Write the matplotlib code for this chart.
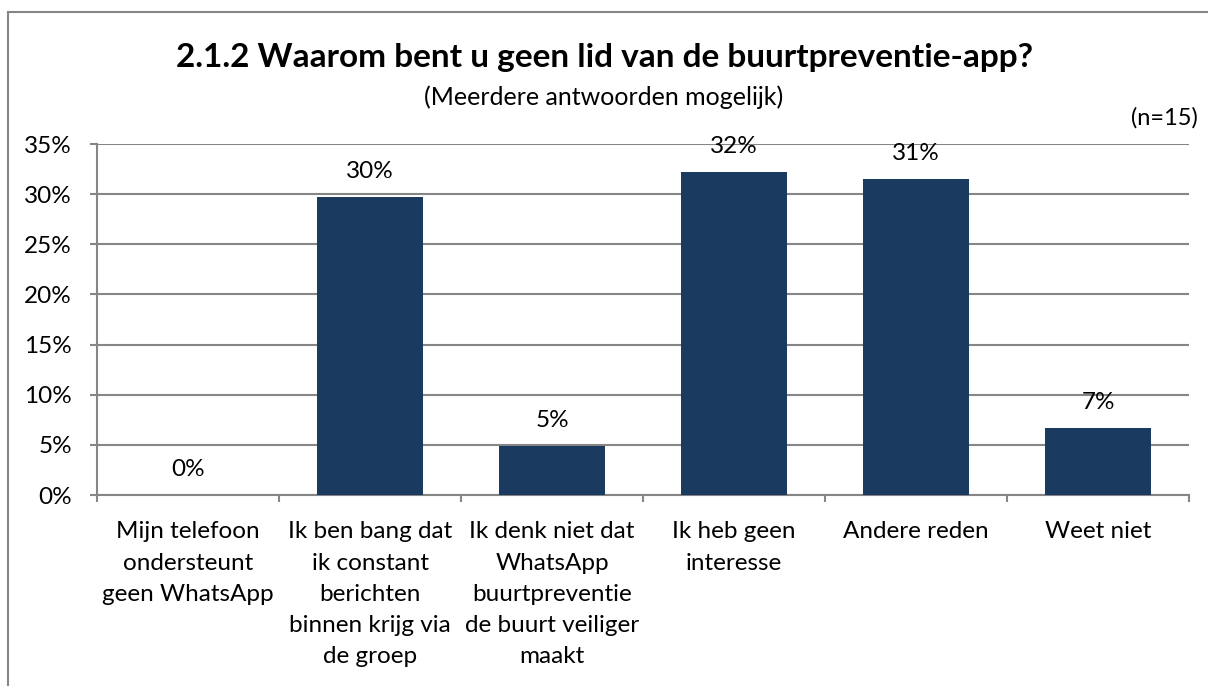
import matplotlib
matplotlib.use('Agg')
import matplotlib.pyplot as plt
from matplotlib.patches import Rectangle
from matplotlib.ticker import FuncFormatter, MultipleLocator

# Data
categorieen = ['Mijn telefoon\nondersteunt\ngeen WhatsApp',
               'Ik ben bang dat\nik constant\nberichten\nbinnen krijg via\nde groep',
               'Ik denk niet dat\nWhatsApp\nbuurtpreventie\nde buurt veiliger\nmaakt',
               'Ik heb geen\ninteresse',
               'Andere reden',
               'Weet niet']
percentages = [0.0, 29.7, 4.9, 32.2, 31.5, 6.7]
labels = ['0%', '30%', '5%', '32%', '31%', '7%']

plt.rcParams['font.family'] = ['Lato', 'DejaVu Sans']

fig = plt.figure(figsize=(12.08, 6.86), dpi=100)
ax = fig.add_axes([0.0803, 0.2784, 0.9040, 0.5116])

# Rand van de grafiek (alleen boven en links zichtbaar)
fig.patches.append(Rectangle((0.007, -0.1), 1.1, 1.1 - 0.0175, transform=fig.transFigure,
                             fill=False, edgecolor='#868686', linewidth=1.5))

x = range(len(categorieen))
bars = ax.bar(x, percentages, width=0.58, color='#1B3A5F', zorder=3)

for i, (p, lab) in enumerate(zip(percentages, labels)):
    ax.annotate(lab, (i, p), xytext=(0, 18.5), textcoords='offset points',
                ha='center', va='center', fontsize=17.5, color='#000000')

ax.set_xlim(-0.5, len(categorieen) - 0.5)
ax.set_ylim(0, 35)
ax.yaxis.set_major_locator(MultipleLocator(5))
ax.yaxis.set_major_formatter(FuncFormatter(lambda v, _: f'{v:.0f}%'))
ax.grid(axis='y', color='#868686', linewidth=1.5, zorder=0)

ax.set_xticks(x)
ax.set_xticklabels(categorieen, fontsize=17.5, linespacing=1.6, va='top')
ax.tick_params(axis='x', length=0, pad=19)
ax.set_xticks([i - 0.5 for i in range(len(categorieen) + 1)], minor=True)
ax.tick_params(axis='x', which='minor', length=5, width=1.5, color='#868686')
ax.tick_params(axis='y', length=5, width=1.5, color='#868686', labelsize=17.5, pad=13)

for s in ['top', 'right']:
    ax.spines[s].set_visible(False)
ax.spines['left'].set_color('#868686')
ax.spines['left'].set_linewidth(1.5)
ax.spines['bottom'].set_color('#868686')
ax.spines['bottom'].set_linewidth(1.5)

fig.text(0.5, 0.9155, '2.1.2 Waarom bent u geen lid van de buurtpreventie-app?',
         ha='center', va='center', fontsize=24, fontweight='bold')
fig.text(0.5, 0.8586, '(Meerdere antwoorden mogelijk)', ha='center', va='center', fontsize=18)
fig.text(0.9917, 0.828, '(n=15)', ha='right', va='center', fontsize=17)

fig.savefig('out.png', dpi=100)
